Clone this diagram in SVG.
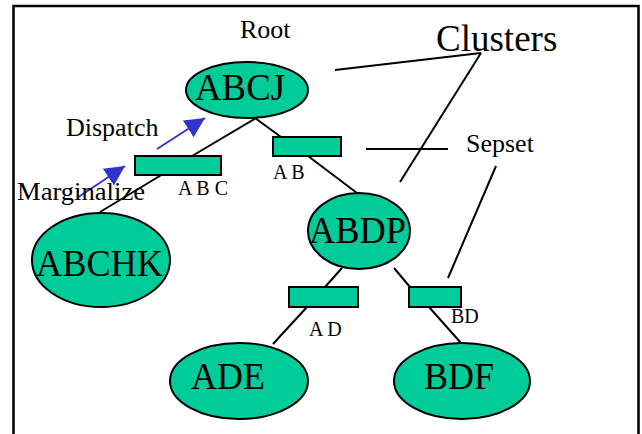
<svg xmlns="http://www.w3.org/2000/svg" width="642" height="434" viewBox="0 0 642 434">
<style>
text{font-family:"Liberation Serif","Times New Roman",serif;fill:#000}
.node ellipse,.sep rect{fill:#00cc99;stroke:#000;stroke-width:2}
.big{font-size:38px}
.lbl{font-size:26px}
.small{font-size:20px}
.conn line{stroke:#000;stroke-width:2}
.arr line{stroke:#3333cc;stroke-width:2}
</style>
<defs>
<marker id="ah" markerUnits="userSpaceOnUse" markerWidth="22" markerHeight="22" refX="20" refY="10" orient="auto" viewBox="0 0 22 22">
<path d="M0,0 L20,10 L0,20 z" fill="#3333cc"/>
</marker>
</defs>
<rect x="0" y="0" width="642" height="434" fill="#fff"/>
<path d="M13.5,440 L13.5,6 L638.5,6 L638.5,440" fill="none" stroke="#000" stroke-width="2.5"/>

<g class="conn" id="connectors">
<line x1="256" y1="118" x2="192" y2="156"/>
<line x1="163" y1="174" x2="100" y2="212"/>
<line x1="255" y1="118" x2="281" y2="137"/>
<line x1="308" y1="156" x2="357" y2="193"/>
<line x1="342" y1="268" x2="325" y2="287"/>
<line x1="307" y1="307" x2="273" y2="344"/>
<line x1="394" y1="268" x2="410" y2="287"/>
<line x1="429" y1="307" x2="461" y2="343"/>
<line x1="335" y1="70" x2="481" y2="53"/>
<line x1="481" y1="53" x2="400" y2="182"/>
<line x1="366" y1="149" x2="448" y2="149"/>
<line x1="496" y1="166" x2="448" y2="278"/>
</g>

<g class="arr" id="arrows">
<line x1="157" y1="149" x2="205" y2="118" marker-end="url(#ah)"/>
<line x1="77" y1="198" x2="125" y2="166" marker-end="url(#ah)"/>
</g>

<g class="node" id="ABCJ">
<ellipse cx="247" cy="90" rx="61" ry="28"/>
<text class="big" x="195" y="100" textLength="90" lengthAdjust="spacingAndGlyphs">ABCJ</text>
</g>
<g class="node" id="ABCHK">
<ellipse cx="101" cy="260" rx="69" ry="47"/>
<text class="big" x="36" y="276" textLength="127" lengthAdjust="spacingAndGlyphs">ABCHK</text>
</g>
<g class="node" id="ABDP">
<ellipse cx="359" cy="231" rx="51" ry="38"/>
<text class="big" x="309" y="243" textLength="97" lengthAdjust="spacingAndGlyphs">ABDP</text>
</g>
<g class="node" id="ADE">
<ellipse cx="239" cy="381" rx="69" ry="38"/>
<text class="big" x="191" y="389" textLength="74" lengthAdjust="spacingAndGlyphs">ADE</text>
</g>
<g class="node" id="BDF">
<ellipse cx="462" cy="381" rx="68" ry="38"/>
<text class="big" x="424" y="389" textLength="70" lengthAdjust="spacingAndGlyphs">BDF</text>
</g>

<g class="sep" id="sepABC">
<rect x="135" y="156" width="86" height="19"/>
<text class="small" x="178" y="195">A B C</text>
</g>
<g class="sep" id="sepAB">
<rect x="273" y="137" width="68" height="19"/>
<text class="small" x="273" y="179">A B</text>
</g>
<g class="sep" id="sepAD">
<rect x="289" y="287" width="69" height="20"/>
<text class="small" x="309" y="336">A D</text>
</g>
<g class="sep" id="sepBD">
<rect x="409" y="287" width="52" height="20"/>
<text class="small" x="451" y="323">BD</text>
</g>

<g id="labels">
<text class="lbl" x="240" y="38">Root</text>
<text x="436" y="51" style="font-size:37px">Clusters</text>
<text class="lbl" x="466" y="152">Sepset</text>
<text class="lbl" x="66" y="136">Dispatch</text>
<text class="lbl" x="17" y="200" textLength="128" lengthAdjust="spacingAndGlyphs">Marginalize</text>
</g>
</svg>
